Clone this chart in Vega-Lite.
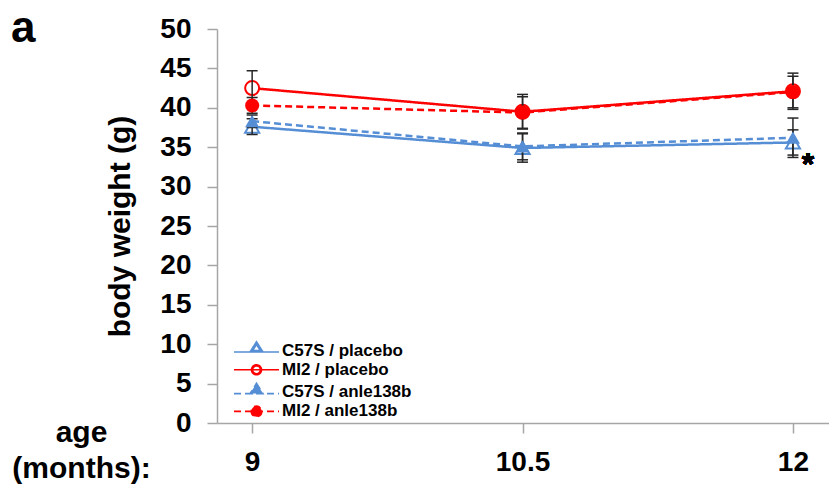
{
  "$schema": "https://vega.github.io/schema/vega-lite/v6.json",
  "width": 612,
  "height": 394,
  "autosize": {"type": "none"},
  "padding": {"left": 217, "top": 29, "right": 0, "bottom": 63},
  "background": "white",
  "config": {
    "view": {"stroke": null},
    "font": "Liberation Sans",
    "axis": {
      "grid": false,
      "domainColor": "#a6a6a6",
      "domainWidth": 1.5,
      "tickColor": "#a6a6a6",
      "tickWidth": 1.5,
      "tickSize": 10,
      "labelFont": "Liberation Sans",
      "labelFontWeight": "bold",
      "labelColor": "black",
      "labelFontSize": 28,
      "labelOverlap": false,
      "labelBound": false,
      "titleFont": "Liberation Sans",
      "titleFontWeight": "bold",
      "titleColor": "black",
      "titleFontSize": 30
    }
  },
  "title": {
    "text": "a",
    "anchor": "start",
    "frame": "group",
    "fontSize": 44,
    "fontWeight": "bold",
    "font": "Liberation Sans",
    "color": "black",
    "baseline": "alphabetic",
    "offset": 0,
    "dx": -206,
    "dy": 71
  },
  "data": {
    "values": [
      {"series": "C57S / placebo", "genotype": "C57S", "treatment": "placebo", "month": 9, "mean": 37.6, "lo": 36.6, "hi": 38.6},
      {"series": "C57S / placebo", "genotype": "C57S", "treatment": "placebo", "month": 10.5, "mean": 34.9, "lo": 33.1, "hi": 36.7},
      {"series": "C57S / placebo", "genotype": "C57S", "treatment": "placebo", "month": 12, "mean": 35.6, "lo": 34.0, "hi": 37.2},
      {"series": "MI2 / placebo", "genotype": "MI2", "treatment": "placebo", "month": 9, "mean": 42.5, "lo": 40.3, "hi": 44.7},
      {"series": "MI2 / placebo", "genotype": "MI2", "treatment": "placebo", "month": 10.5, "mean": 39.5, "lo": 37.3, "hi": 41.7},
      {"series": "MI2 / placebo", "genotype": "MI2", "treatment": "placebo", "month": 12, "mean": 42.1, "lo": 39.8, "hi": 44.4},
      {"series": "C57S / anle138b", "genotype": "C57S", "treatment": "anle138b", "month": 9, "mean": 38.3, "lo": 37.5, "hi": 39.1},
      {"series": "C57S / anle138b", "genotype": "C57S", "treatment": "anle138b", "month": 10.5, "mean": 35.1, "lo": 33.4, "hi": 36.8},
      {"series": "C57S / anle138b", "genotype": "C57S", "treatment": "anle138b", "month": 12, "mean": 36.2, "lo": 33.7, "hi": 38.7},
      {"series": "MI2 / anle138b", "genotype": "MI2", "treatment": "anle138b", "month": 9, "mean": 40.3, "lo": 39.3, "hi": 41.3},
      {"series": "MI2 / anle138b", "genotype": "MI2", "treatment": "anle138b", "month": 10.5, "mean": 39.4, "lo": 37.4, "hi": 41.4},
      {"series": "MI2 / anle138b", "genotype": "MI2", "treatment": "anle138b", "month": 12, "mean": 42.0, "lo": 40.0, "hi": 44.0}
    ]
  },
  "encoding": {
    "x": {
      "field": "month",
      "type": "quantitative",
      "scale": {"domain": [8.805, 12.2], "nice": false, "zero": false},
      "axis": {
        "values": [9, 10.5, 12],
        "labelExpr": "datum.value + ''",
        "labelBaseline": "alphabetic",
        "labelPadding": 37,
        "title": ["age", "(months):"],
        "titleX": -136,
        "titleY": 18,
        "titleAlign": "center",
        "titleAnchor": null,
        "titleBaseline": "alphabetic",
        "titleLineHeight": 36,
        "titleAngle": 0
      }
    },
    "y": {
      "field": "mean",
      "type": "quantitative",
      "scale": {"domain": [0, 50], "nice": false, "zero": true},
      "axis": {
        "values": [0, 5, 10, 15, 20, 25, 30, 35, 40, 45, 50],
        "format": "d",
        "labelPadding": 16,
        "title": "body weight (g)",
        "titlePadding": 24
      }
    }
  },
  "layer": [
    {
      "mark": {"type": "line", "strokeWidth": 2.5},
      "encoding": {
        "color": {
          "field": "series",
          "type": "nominal",
          "scale": {
            "domain": ["C57S / placebo", "MI2 / placebo", "C57S / anle138b", "MI2 / anle138b"],
            "range": ["#558ed5", "#ff0000", "#558ed5", "#ff0000"]
          },
          "legend": {
            "orient": "none",
            "legendX": 31,
            "legendY": 313,
            "title": null,
            "padding": 0,
            "labelFont": "Liberation Sans",
            "labelFontSize": 17,
            "labelFontWeight": "bold",
            "labelColor": "black",
            "labelOffset": 17,
            "rowPadding": 1.3,
            "symbolSize": 100,
            "symbolStrokeWidth": 2,
            "encode": {
              "symbols": {
                "update": {
                  "shape": {"signal": "datum.value == 'C57S / placebo' ? 'M-4.5,0.3H4.5M0,-1.75L1.3,0.3L-1.3,0.3ZM0,-1.2L-0.78,0.03L0.78,0.03Z' : datum.value == 'MI2 / placebo' ? 'M-4.5,0H4.5M1,0A1,1,0,1,1,-1,0A1,1,0,1,1,1,0ZM0.78,0A0.78,0.78,0,1,0,-0.78,0A0.78,0.78,0,1,0,0.78,0Z' : datum.value == 'C57S / anle138b' ? 'M-4.5,0.3H4.5M0,-1.75L1.3,0.3L-1.3,0.3Z' : 'M-4.5,0H4.5M1.05,0A1.05,1.05,0,1,1,-1.05,0A1.05,1.05,0,1,1,1.05,0Z'"},
                  "fill": {"signal": "indexof(datum.value, 'C57S') >= 0 ? '#558ed5' : '#ff0000'"},
                  "fillOpacity": {"value": 1},
                  "stroke": {"signal": "indexof(datum.value, 'C57S') >= 0 ? '#558ed5' : '#ff0000'"},
                  "strokeDash": {"signal": "indexof(datum.value, 'anle') >= 0 ? [6, 3] : [1, 0]"},
                  "strokeWidth": {"value": 1.6},
                  "size": {"value": 100},
                  "opacity": {"value": 1}
                }
              }
            }
          }
        },
        "strokeDash": {
          "field": "series",
          "type": "nominal",
          "scale": {
            "domain": ["C57S / placebo", "MI2 / placebo", "C57S / anle138b", "MI2 / anle138b"],
            "range": [[1, 0], [1, 0], [7, 4], [7, 4]]
          },
          "legend": null
        }
      }
    },
    {
      "transform": [{"filter": "datum.treatment == 'placebo'"}],
      "mark": {"type": "point", "filled": false, "fill": "white", "strokeWidth": 2, "opacity": 1},
      "encoding": {
        "color": {"field": "series", "type": "nominal", "legend": null},
        "shape": {
          "field": "genotype",
          "type": "nominal",
          "scale": {"domain": ["C57S", "MI2"], "range": ["triangle-up", "circle"]},
          "legend": null
        },
        "size": {
          "field": "genotype",
          "type": "nominal",
          "scale": {"domain": ["C57S", "MI2"], "range": [200, 196]},
          "legend": null
        }
      }
    },
    {
      "mark": {"type": "rule", "color": "#262626", "strokeWidth": 1.5},
      "encoding": {
        "y": {"field": "lo", "type": "quantitative"},
        "y2": {"field": "hi"}
      }
    },
    {
      "transform": [{"fold": ["lo", "hi"], "as": ["end", "bound"]}],
      "mark": {"type": "tick", "orient": "horizontal", "color": "#262626", "size": 11, "thickness": 1.5, "opacity": 1},
      "encoding": {
        "y": {"field": "bound", "type": "quantitative"}
      }
    },
    {
      "transform": [{"filter": "datum.treatment == 'anle138b'"}],
      "mark": {"type": "point", "filled": true, "opacity": 1},
      "encoding": {
        "color": {"field": "series", "type": "nominal", "legend": null},
        "shape": {"field": "genotype", "type": "nominal", "legend": null},
        "size": {
          "field": "genotype",
          "type": "nominal",
          "scale": {"domain": ["C57S", "MI2"], "range": [256, 289]},
          "legend": null
        }
      }
    },
    {
      "mark": {"type": "text", "text": "*", "font": "Liberation Sans", "fontSize": 32, "fontWeight": "bold", "color": "black", "baseline": "alphabetic", "dx": 15, "dy": 18},
      "encoding": {
        "x": {"datum": 12, "type": "quantitative"},
        "y": {"datum": 33.75, "type": "quantitative"}
      }
    }
  ]
}
